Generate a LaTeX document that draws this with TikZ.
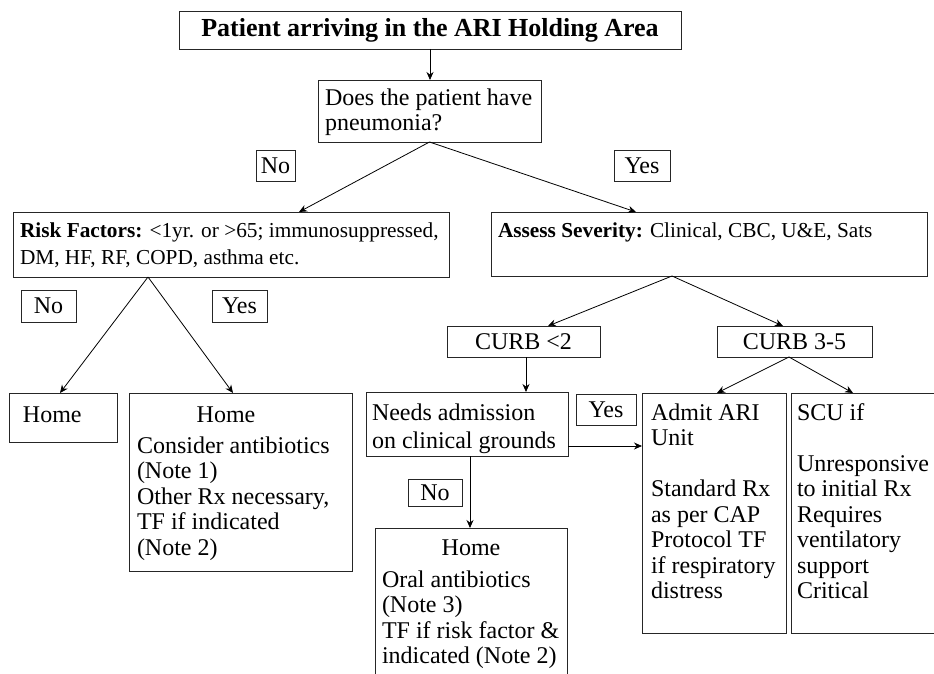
\documentclass[tikz,border=0pt]{standalone}
\usepackage{fontspec}
\setmainfont{Liberation Serif}
\usetikzlibrary{arrows.meta,calc}
\newcommand{\mainsz}{\fontsize{24}{25.5}\selectfont}
\newcommand{\smallsz}{\fontsize{21.3}{27}\selectfont}
\tikzset{
  box/.style={draw=black!85, line width=0.8pt, inner sep=0pt, outer sep=0pt, rectangle, anchor=north west},
  txt/.style={inner sep=0pt, outer sep=0pt, anchor=north west, align=left, font=\mainsz},
  arr/.style={draw=black, line width=0.8pt, -{Stealth[length=8pt,width=7pt]}},
  ln/.style={draw=black, line width=0.8pt},
}
\begin{document}
\begin{tikzpicture}[x=1pt,y=-1pt]
\useasboundingbox (0,0) rectangle (934,674);
\fill[white] (0,0) rectangle (934,674);

% title
\node[box, minimum width=502pt, minimum height=38pt, font=\bfseries\fontsize{26}{30}\selectfont] (title) at (179,11) {Patient arriving in the ARI Holding Area};

% question
\node[box, minimum width=223pt, minimum height=62pt] (q) at (318,80) {};
\node[txt] (qT) at (325,87.2) {\strut Does the patient have\\pneumonia?};

% labels
\node[box, minimum width=39pt, minimum height=31pt, font=\mainsz] (no1) at (256,150) {No};
\node[box, minimum width=56pt, minimum height=31pt, font=\mainsz] (yes1) at (614,150) {Yes};

% risk factors
\node[box, minimum width=436pt, minimum height=65pt] (risk) at (13,212) {};
\node[txt, font=\smallsz] (riskT) at (20,218.1) {\strut\textbf{Risk Factors:} <1yr. or >65; immunosuppressed,\\DM, HF, RF, COPD, asthma etc.};

% assess severity
\node[box, minimum width=436pt, minimum height=64pt] (assess) at (491,212) {};
\node[txt, font=\smallsz] (assessT) at (498,218.1) {\strut\textbf{Assess Severity:} Clinical, CBC, U\&E, Sats};

\node[box, minimum width=55pt, minimum height=32pt, font=\mainsz] (no2) at (21,290) {No};
\node[box, minimum width=55pt, minimum height=32pt, font=\mainsz] (yes2) at (212,290) {Yes};

% home boxes left
\node[box, minimum width=108pt, minimum height=49pt] (home1) at (9,393) {};
\node[txt] (home1T) at (23,404.15) {\strut Home};

\node[box, minimum width=223pt, minimum height=178pt] (home2) at (129,393) {};
\node[font=\mainsz, anchor=base, inner sep=0pt] (home2H) at (226,422) {Home};
\node[txt] (home2T) at (137,435.15) {\strut Consider antibiotics\\(Note 1)\\Other Rx necessary,\\TF if indicated\\(Note 2)};

% CURB
\node[box, minimum width=153pt, minimum height=31pt, font=\mainsz] (curb2) at (447,326) {CURB <2};
\node[box, minimum width=155pt, minimum height=31pt, font=\mainsz] (curb35) at (717,326) {CURB 3-5};

% needs admission
\node[box, minimum width=202pt, minimum height=64pt] (needs) at (366,392) {};
\node[txt] (needsT) at (372,402.15) {\strut Needs admission\\[2.5pt]on clinical grounds};

\node[box, minimum width=60pt, minimum height=31pt, font=\mainsz] (yes3) at (576,394) {Yes};
\node[box, minimum width=54pt, minimum height=27pt, font=\mainsz] (no3) at (408,479) {No};

% home 3
\node[box, minimum width=192pt, minimum height=152pt] (home3) at (375,528) {};
\node[font=\mainsz, anchor=base, inner sep=0pt] (home3H) at (471,555) {Home};
\node[txt] (home3T) at (382,569.15) {\strut Oral antibiotics\\(Note 3)\\TF if risk factor \&\\indicated (Note 2)};

% admit / SCU
\node[box, minimum width=144pt, minimum height=240pt] (admit) at (642,393) {};
\node[txt] (admitT) at (651,402.15) {\strut Admit ARI\\Unit\\[25.5pt]Standard Rx\\as per CAP\\Protocol TF\\if respiratory\\distress};

\node[box, minimum width=145pt, minimum height=240pt] (scu) at (791,393) {};
\node[txt] (scuT) at (797,402.15) {\strut SCU if\\[25.5pt]Unresponsive\\to initial Rx\\Requires\\ventilatory\\support\\Critical};

% connectors
\draw[arr] (title.south) -- (title.south |- q.north);
\draw[arr] (q.south) -- ([xshift=68pt]risk.north);
\draw[arr] (q.south) -- ([xshift=-73pt]assess.north);

\coordinate (riskApex) at ([xshift=-83pt]risk.south);
\draw[arr] (riskApex) -- ([xshift=-3pt]home1.north);
\draw[arr] (riskApex) -- ([xshift=-7.5pt]home2.north);

\coordinate (assApex) at ([xshift=-37pt]assess.south);
\draw[arr] (assApex) -- ([xshift=24.5pt]curb2.north);
\draw[arr] (assApex) -- ([xshift=-11.5pt]curb35.north);

\draw[arr] ([xshift=2.5pt]curb2.south) -- ([xshift=2.5pt]curb2.south |- needs.north);
\draw[arr] ([yshift=-22pt]needs.east) -- ([yshift=-22pt]needs.east -| admit.west);
\draw[arr] ([xshift=3pt]needs.south) -- ([xshift=3pt]needs.south |- home3.north);

\coordinate (curbApex) at ([xshift=-5.5pt]curb35.south);
\draw[arr] (curbApex) -- ([xshift=3pt]admit.north);
\draw[arr] (curbApex) -- ([xshift=-10.5pt]scu.north);
\end{tikzpicture}
\end{document}
